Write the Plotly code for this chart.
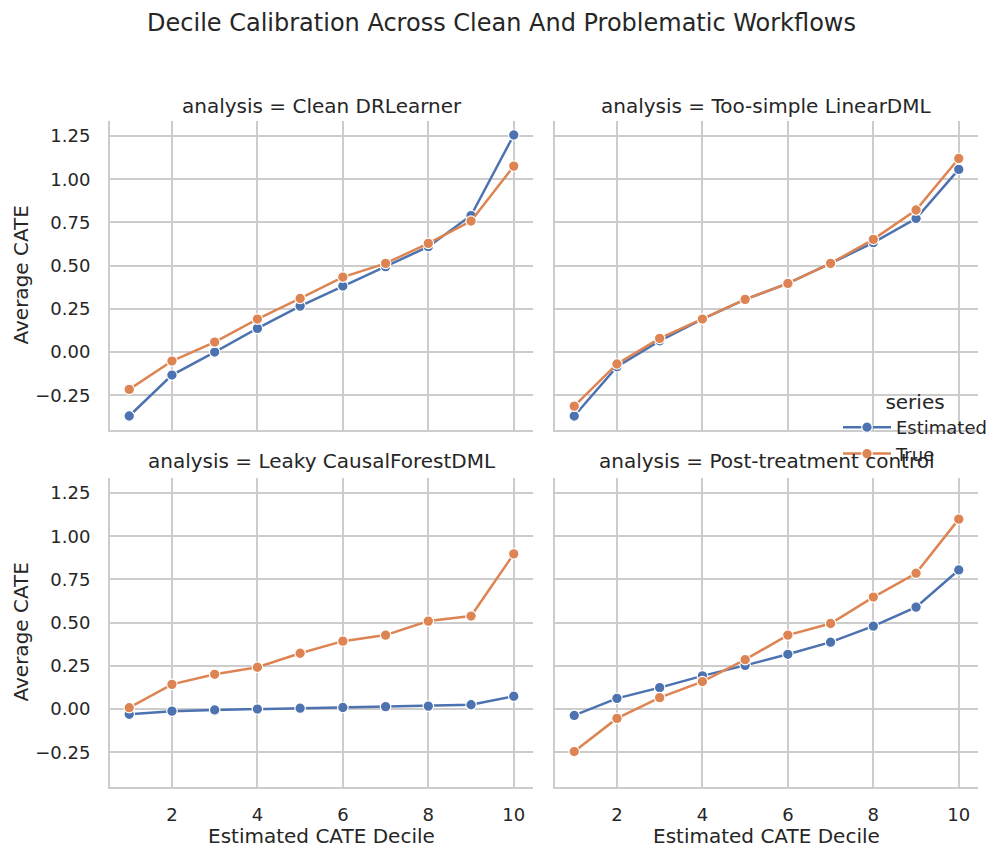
import plotly.graph_objects as go

deciles = [1, 2, 3, 4, 5, 6, 7, 8, 9, 10]
analyses = ["Clean DRLearner", "Too-simple LinearDML", "Leaky CausalForestDML", "Post-treatment control"]

clean_est = [-0.37, -0.133, 0.0, 0.137, 0.266, 0.382, 0.494, 0.61, 0.79, 1.256]
clean_true = [-0.216, -0.052, 0.058, 0.191, 0.31, 0.434, 0.513, 0.629, 0.758, 1.076]
simple_est = [-0.37, -0.085, 0.065, 0.191, 0.305, 0.397, 0.513, 0.633, 0.773, 1.057]
simple_true = [-0.313, -0.069, 0.079, 0.191, 0.305, 0.397, 0.513, 0.652, 0.822, 1.12]
leaky_est = [-0.03, -0.012, -0.005, 0.0, 0.005, 0.009, 0.014, 0.017, 0.025, 0.074]
leaky_true = [0.008, 0.143, 0.201, 0.242, 0.323, 0.393, 0.428, 0.509, 0.538, 0.898]
post_est = [-0.037, 0.062, 0.124, 0.192, 0.253, 0.317, 0.387, 0.48, 0.59, 0.805]
post_true = [-0.246, -0.054, 0.066, 0.159, 0.286, 0.428, 0.495, 0.648, 0.786, 1.099]

series_names = ["Estimated", "True"]
series_colors = ["#4C72B0", "#DD8452"]

y_tickvals = [-0.25, 0.0, 0.25, 0.5, 0.75, 1.0, 1.25]
y_ticktext = ["\u22120.25", "0.00", "0.25", "0.50", "0.75", "1.00", "1.25"]
x_tickvals = [2, 4, 6, 8, 10]

panel_data = [
    (clean_est, clean_true),
    (simple_est, simple_true),
    (leaky_est, leaky_true),
    (post_est, post_true),
]

TXT = "#262626"
GRID = "#cccccc"
FONT = "DejaVu Sans"

# page offset of the plot inside the browser body
OFF = 8
W, H = 1003 - 2 * OFF, 859 - 2 * OFF
ml, mt = 110 - OFF, 121 - OFF
mr = W - (978 - OFF)
mb = H - (787 - OFF)
pw = W - ml - mr
ph = H - mt - mb

def px_x(px):
    return (px - OFF - ml) / pw

def px_y(py):
    return (H - mb - (py - OFF)) / ph

x_doms = [[0, px_x(533)], [px_x(555), 1]]
y_doms = [[px_y(430), 1], [0, px_y(478)]]

fig = go.Figure()
layout = {}
for i, (est, tru) in enumerate(panel_data):
    r, c = divmod(i, 2)
    ax = "" if i == 0 else str(i + 1)
    for j, vals in enumerate([est, tru]):
        fig.add_trace(go.Scatter(
            x=deciles, y=vals, mode="lines+markers",
            name=series_names[j], legendgroup=series_names[j],
            showlegend=(i == 0),
            line=dict(color=series_colors[j], width=2.5),
            marker=dict(color=series_colors[j], size=10.5, line=dict(color="white", width=1.2)),
            xaxis="x" + ax, yaxis="y" + ax,
        ))
    layout["xaxis" + ax] = dict(
        domain=x_doms[c], anchor="y" + ax, range=[0.55, 10.45],
        tickvals=x_tickvals, showticklabels=(r == 1),
        showgrid=True, gridcolor=GRID, gridwidth=1.7, zeroline=False,
        showline=True, linecolor=GRID, linewidth=2.1,
        ticks="", ticklabelstandoff=10,
        tickfont=dict(size=18, color=TXT, family=FONT),
    )
    layout["yaxis" + ax] = dict(
        domain=y_doms[r], anchor="x" + ax, range=[-0.451, 1.337],
        tickvals=y_tickvals, ticktext=y_ticktext, showticklabels=(c == 0),
        showgrid=True, gridcolor=GRID, gridwidth=1.7, zeroline=False,
        showline=True, linecolor=GRID, linewidth=2.1,
        ticks="", ticklabelstandoff=14,
        tickfont=dict(size=18, color=TXT, family=FONT),
    )

annotations = []
title_y = [px_y(106), px_y(461)]
for i, name in enumerate(analyses):
    r, c = divmod(i, 2)
    annotations.append(dict(
        text="analysis = " + name, xref="paper", yref="paper",
        x=sum(x_doms[c]) / 2, y=title_y[r], xanchor="center", yanchor="middle",
        showarrow=False, font=dict(size=20, color=TXT, family=FONT),
    ))
for r in range(2):
    annotations.append(dict(
        text="Average CATE", xref="paper", yref="paper",
        x=px_x(20), y=sum(y_doms[r]) / 2, textangle=-90,
        xanchor="center", yanchor="middle", showarrow=False,
        font=dict(size=20, color=TXT, family=FONT),
    ))
for c in range(2):
    annotations.append(dict(
        text="Estimated CATE Decile", xref="paper", yref="paper",
        x=sum(x_doms[c]) / 2, y=px_y(836), xanchor="center", yanchor="middle",
        showarrow=False, font=dict(size=20, color=TXT, family=FONT),
    ))

fig.update_layout(
    **layout,
    width=W, height=H,
    margin=dict(l=ml, r=mr, t=mt, b=mb, autoexpand=False),
    paper_bgcolor="white", plot_bgcolor="white",
    font=dict(family=FONT, color=TXT),
    title=dict(text="Decile Calibration Across Clean And Problematic Workflows",
               x=0.5, xanchor="center", y=1 - (23 - OFF) / H, yanchor="middle",
               font=dict(size=24, color=TXT, family=FONT)),
    annotations=annotations,
    legend=dict(
        title=dict(text="series", font=dict(size=20, color=TXT, family=FONT), side="top center"),
        font=dict(size=18, color=TXT, family=FONT),
        x=px_x(838), y=px_y(383), xanchor="left", yanchor="top",
        bgcolor="rgba(0,0,0,0)", traceorder="grouped", tracegroupgap=0,
        itemwidth=48,
    ),
    showlegend=True,
)

fig.write_html("out.html")
